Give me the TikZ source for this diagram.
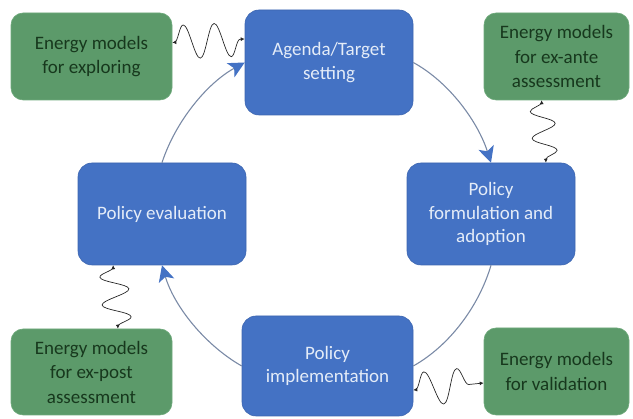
\documentclass[tikz,border=0pt]{standalone}
\usepackage{fontspec}
\setmainfont{Carlito}
\usetikzlibrary{arrows.meta,decorations.pathmorphing}
\definecolor{pblue}{HTML}{4472C4}
\definecolor{pblueedge}{HTML}{3D66B0}
\definecolor{pbluetext}{HTML}{E4ECF8}
\definecolor{pgreen}{HTML}{5C9A6A}
\definecolor{pgreenedge}{HTML}{6FAA7C}
\definecolor{pgreentext}{HTML}{17381D}
\definecolor{arcgray}{HTML}{7A8AA6}
\begin{document}
\begin{tikzpicture}[x=1pt,y=1pt,
  phase/.style={draw=pblueedge, line width=0.6pt, fill=pblue, rounded corners=14pt,
    text=pbluetext, font=\fontsize{19}{23.5}\selectfont, align=center, inner sep=0pt},
  model/.style={draw=pgreenedge, line width=0.6pt, fill=pgreen, rounded corners=12pt,
    text=pgreentext, font=\fontsize{19}{24.5}\selectfont, align=center, inner sep=0pt},
  cyc/.style={draw=arcgray, line width=1.1pt, looseness=0.85},
  cyctip/.style={-{Stealth[length=16pt,width=16pt,inset=4pt,color=pblue]}},
  wave/.style={draw=black!85, line width=0.7pt, decorate,
    decoration={snake, segment length=#1, amplitude=14pt, pre length=2pt, post length=2pt},
    {Latex[length=4pt,width=4pt]}-{Latex[length=4pt,width=4pt]}},
  wave/.default=30pt]
\useasboundingbox (0,0) rectangle (633,419);
% phases
\node[phase, minimum width=168pt, minimum height=105pt] (ag) at (329,356.5) {Agenda/Target\\setting};
\node[phase, minimum width=168pt, minimum height=102pt] (fo) at (491,205) {Policy\\formulation and\\adoption};
\node[phase, minimum width=171pt, minimum height=100pt] (im) at (327.5,53) {Policy\\implementation};
\node[phase, minimum width=168pt, minimum height=102pt] (ev) at (162,205) {Policy evaluation};
% models
\node[model, minimum width=161pt, minimum height=87pt] (gtl) at (91.5,362.5) {Energy models\\for exploring};
\node[model, minimum width=145pt, minimum height=87pt] (gtr) at (556.5,362.5) {Energy models\\for ex-ante\\assessment};
\node[model, minimum width=161pt, minimum height=86pt] (gbl) at (91.5,47) {Energy models\\for ex-post\\assessment};
\node[model, minimum width=145pt, minimum height=87pt] (gbr) at (556.5,47.5) {Energy models\\for validation};
% cycle arcs
\draw[cyc, cyctip] (ev.north) to[out=72, in=208.8] (ag.west);
\draw[cyc, cyctip] (ag.east) to[out=-28.8, in=107.8] (fo.north);
\draw[cyc] (fo.south) to[out=-106.5, in=29.4] (im.east);
\draw[cyc, cyctip] (im.west) to[out=150.2, in=286.5] (ev.south);
% wavy links
\draw[wave=31pt, decoration={amplitude=17pt}] ([yshift=14pt]gtl.east) -- ([yshift=23.5pt]ag.west);
\draw[wave=27pt, decoration={amplitude=-12pt}] ([xshift=-15pt]gtr.south) -- ([xshift=55pt]fo.north);
\draw[wave=28pt, decoration={amplitude=-14pt}] ([xshift=-49pt]ev.south) -- ([xshift=26.5pt]gbl.north);
\draw[wave=33pt, decoration={amplitude=17pt}] ([yshift=-24pt]im.east) -- ([yshift=-11.5pt]gbr.west);
\end{tikzpicture}
\end{document}
